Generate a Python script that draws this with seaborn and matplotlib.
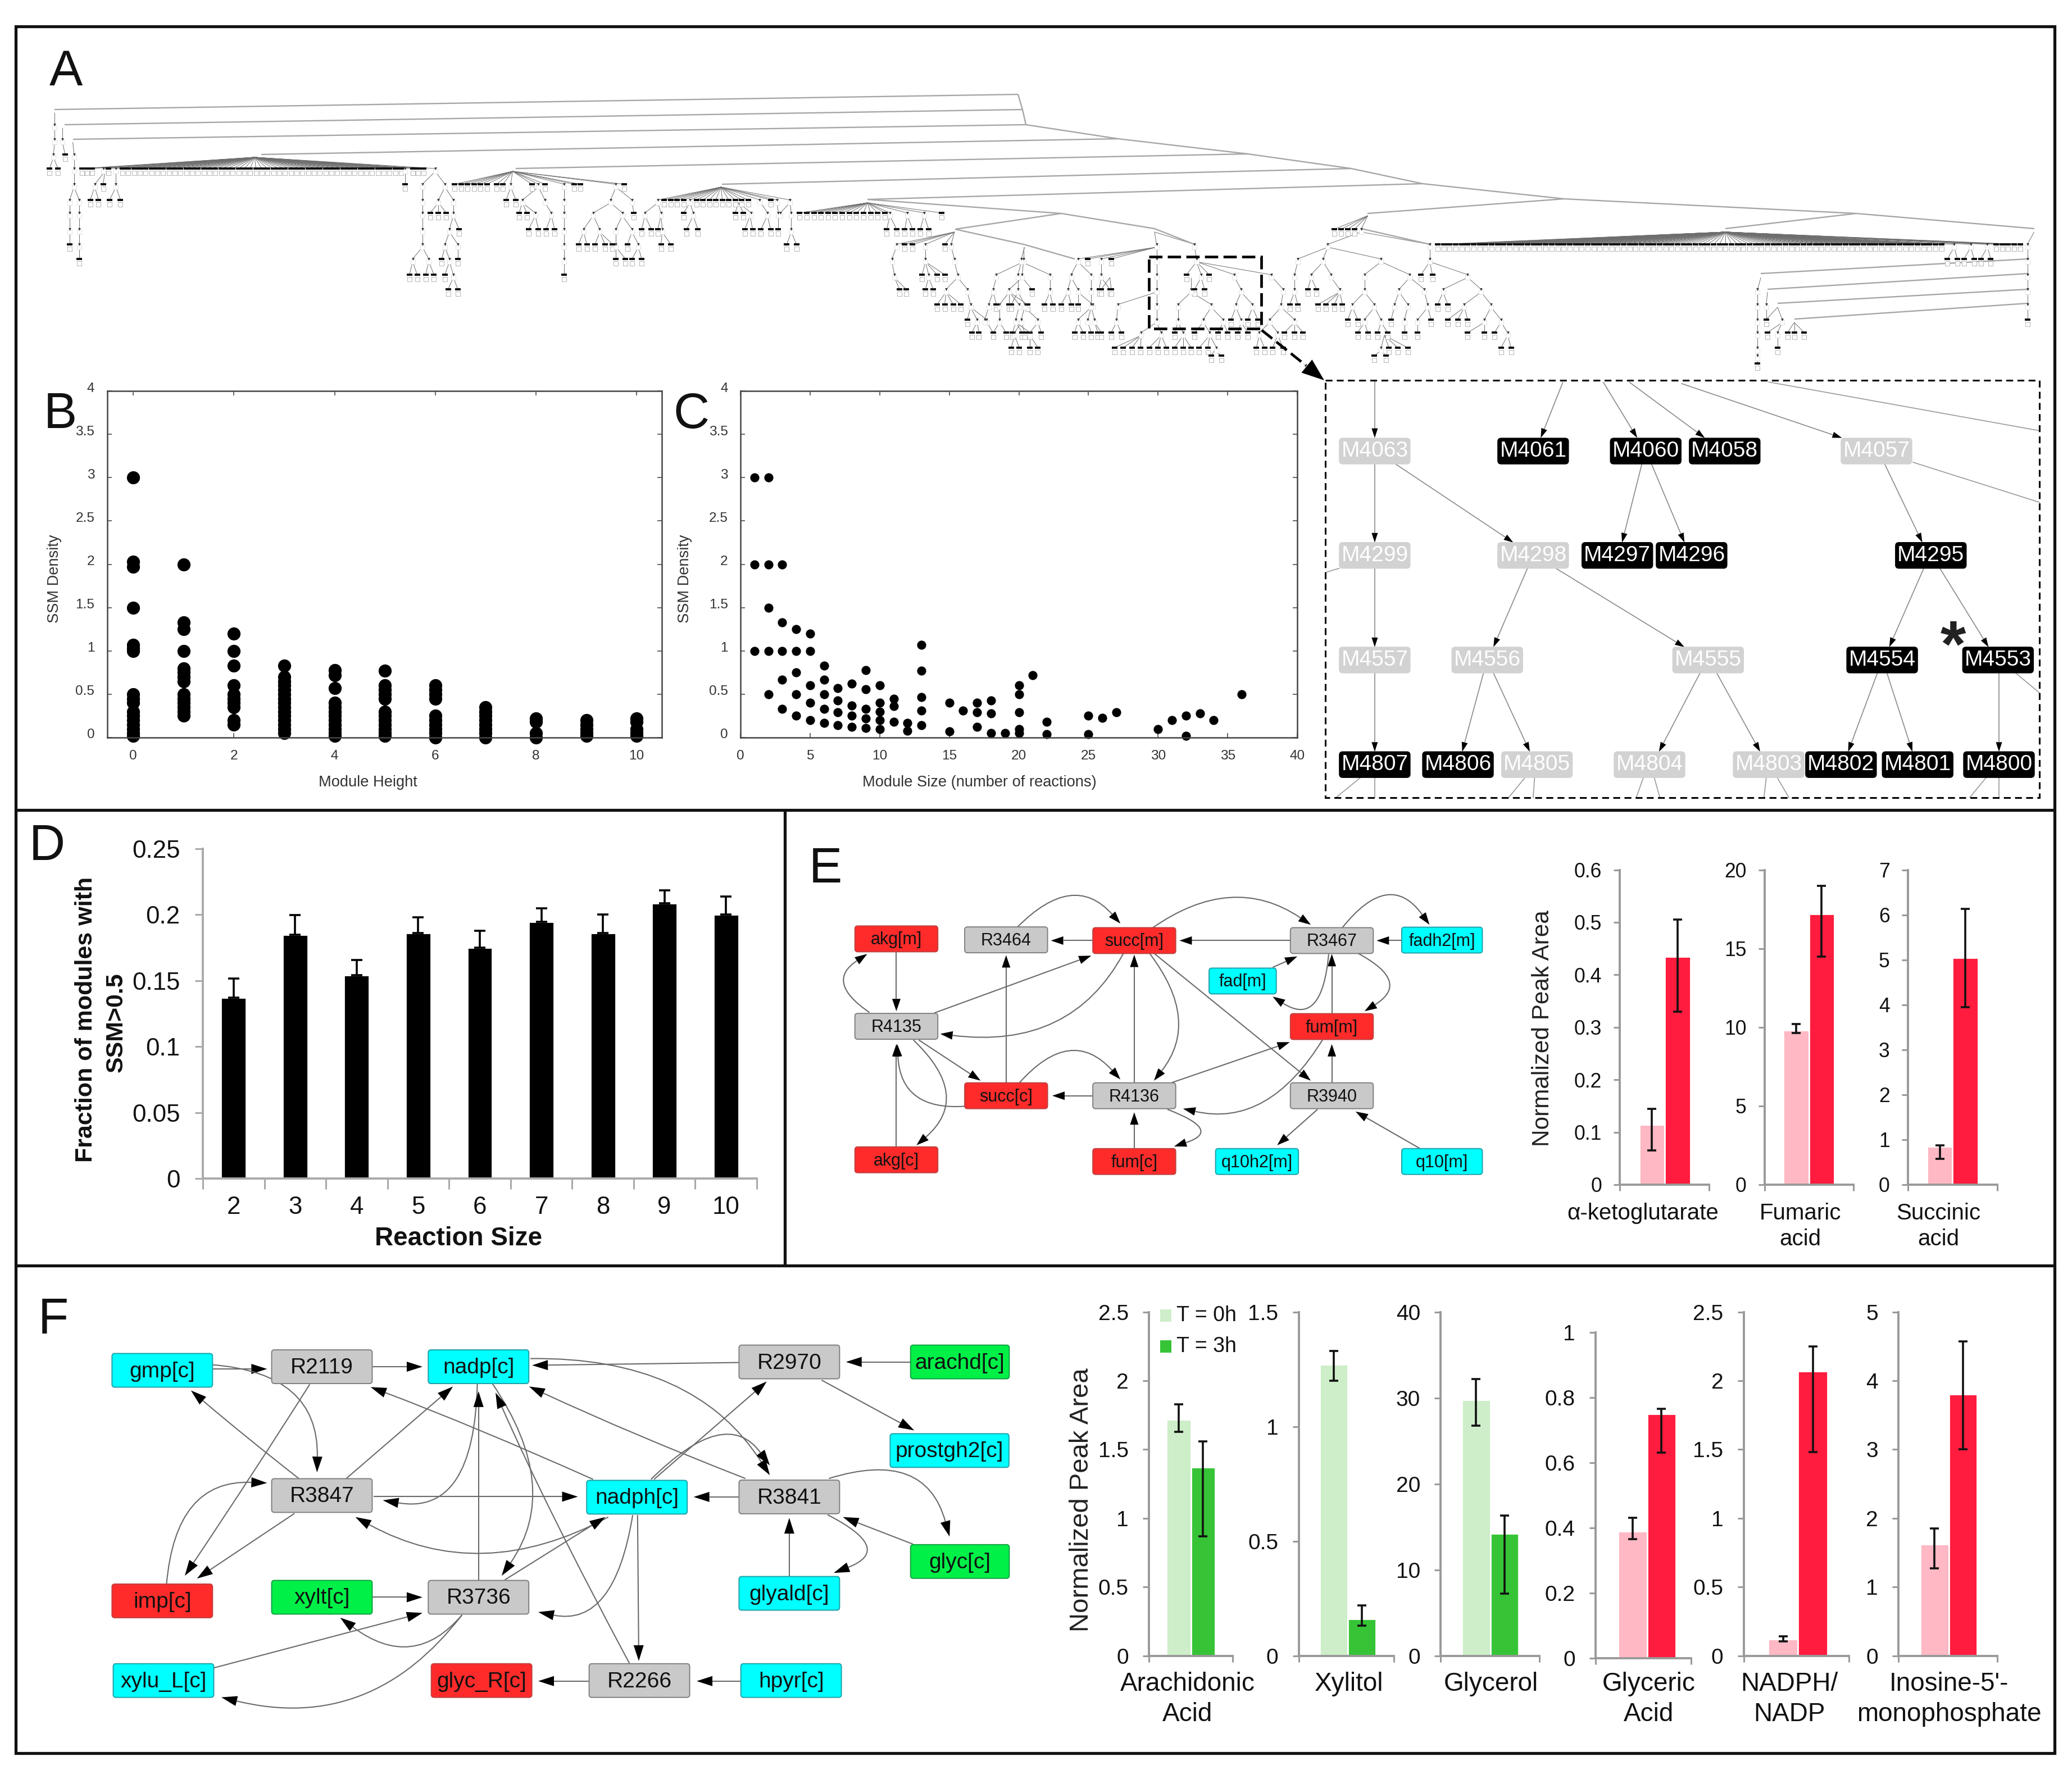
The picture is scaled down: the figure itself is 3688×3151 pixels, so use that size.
import numpy as np
import pandas as pd
import matplotlib
matplotlib.use("Agg")
import matplotlib.pyplot as plt
import seaborn as sns
from matplotlib.collections import LineCollection
from matplotlib.patches import FancyBboxPatch, PathPatch, Polygon, Rectangle
from matplotlib.path import Path
from matplotlib.transforms import ScaledTranslation

sns.set_style("white")
plt.rcParams["font.family"] = ["Liberation Sans", "DejaVu Sans"]

W, H = 3688, 3151
DPI = 200

# --------------------------------------------------
# Data - panels B, C, D
# --------------------------------------------------

density_h0 = [3, 2.03, 1.97, 1.5, 1.07, 1.03, 1.0, 0.5, 0.45, 0.4, 0.3, 0.25, 0.2, 0.15, 0.1, 0.05, 0.02]
density_h1 = [2, 1.33, 1.25, 1.0, 0.8, 0.75, 0.7, 0.65, 0.5, 0.45, 0.4, 0.35, 0.3, 0.25]
density_h2 = [1.2, 1.0, 0.83, 0.6, 0.5, 0.45, 0.4, 0.35, 0.2, 0.15]
density_h3 = [0.83, 0.7, 0.65, 0.6, 0.55, 0.5, 0.45, 0.4, 0.35, 0.3, 0.25, 0.2, 0.15, 0.1, 0.05]
density_h4 = [0.78, 0.72, 0.57, 0.4, 0.35, 0.3, 0.25, 0.2, 0.15, 0.1, 0.05, 0.02]
density_h5 = [0.77, 0.6, 0.55, 0.5, 0.45, 0.3, 0.25, 0.2, 0.15, 0.1, 0.05, 0.02]
density_h6 = [0.6, 0.55, 0.5, 0.45, 0.25, 0.2, 0.15, 0.1, 0.05, 0]
density_h7 = [0.35, 0.3, 0.25, 0.2, 0.15, 0.1, 0.05, 0]
density_h8 = [0.22, 0.18, 0.05, 0]
density_h9 = [0.2, 0.15, 0.1, 0.05, 0.02]
density_h10 = [0.22, 0.18, 0.1, 0.05, 0.02]
density_by_height = [density_h0, density_h1, density_h2, density_h3, density_h4, density_h5,
                     density_h6, density_h7, density_h8, density_h9, density_h10]

module_size = [1, 2, 1, 2, 3, 2, 3, 4, 5, 1, 2, 3, 4, 5, 13, 6, 9, 13, 4, 21, 3, 6, 8, 5, 10, 20, 7, 9, 2, 4, 6, 13,
               20, 36, 11, 7, 18, 5, 10, 15, 17, 8, 11, 3, 6, 9, 13, 16, 7, 10, 17, 18, 20, 27, 33, 4, 8, 25, 32, 26,
               9, 5, 10, 31, 34, 11, 22, 6, 12, 7, 13, 8, 9, 17, 10, 12, 20, 30, 15, 18, 19, 20, 22, 25, 32]
module_density = [3, 3, 2, 2, 2, 1.5, 1.33, 1.25, 1.2, 1, 1, 1, 1, 1, 1.07, .83, .78, .77, .75, .72, .67, .67, .62,
                  .6, .6, .6, .57, .56, .5, .5, .5, .47, .5, .5, .45, .43, .43, .4, .4, .4, .4, .37, .36, .33, .33,
                  .33, .31, .31, .29, .3, .29, .28, .29, .29, .28, .25, .25, .25, .25, .23, .22, .2, .2, .2, .2, .18,
                  .18, .17, .17, .14, .14, .12, .11, .12, .1, .08, .1, .1, .07, .05, .05, .05, .04, .04, .02]

reaction_size = ["2", "3", "4", "5", "6", "7", "8", "9", "10"]
fraction_ssm = [.137, .185, .154, .186, .175, .1945, .186, .2085, .2]
fraction_err = [.0145, .0146, .0117, .012, .013, .0105, .014, .01, .014]

# --------------------------------------------------
# Data - peak area bars
# --------------------------------------------------

akg_area, akg_low, akg_high = [.115, .435], [.065, .33], [.145, .505]
fum_area, fum_low, fum_high = [9.8, 17.2], [9.65, 14.5], [10.2, 19]
suc_area, suc_low, suc_high = [.85, 5.05], [.58, 3.95], [.88, 6.13]
ara_area, ara_low, ara_high = [1.72, 1.37], [1.63, .87], [1.83, 1.56]
xyl_area, xyl_low, xyl_high = [1.27, .16], [1.2, .13], [1.33, .22]
gol_area, gol_low, gol_high = [29.8, 14.2], [26.8, 7.2], [32.2, 16.3]
gla_area, gla_low, gla_high = [.39, .75], [.365, .63], [.43, .765]
nad_area, nad_low, nad_high = [.12, 2.07], [.105, 1.48], [.14, 2.25]
ino_area, ino_low, ino_high = [1.62, 3.8], [1.27, 3.0], [1.85, 4.57]

timepoints = ["T = 0h", "T = 3h"]
reds = ["#ffb8c4", "#ff1c3e"]
greens = ["#cdeec8", "#36c436"]

# --------------------------------------------------
# Data - panel A tree (x read off two crops, row = level)
# --------------------------------------------------

row_y = [168, 195, 222, 248, 275, 300, 328, 356, 379, 408, 435, 461, 489, 515, 542, 569, 592, 619, 633, 647]

top_children = [92, 100, 108, 125, 133, 145] + list(range(155, 590, 9)) + [593, 605, 613, 622, 640]
fan3_children = [985] + list(range(995, 1130, 10)) + [1143, 1160, 1170, 1190]
fan4_children = list(range(1205, 1340, 11)) + [1345, 1372, 1398, 1425]
big_children = list(range(640, 1405, 9)) + [1415, 1440, 1465] + list(range(1478, 1518, 9))

left_fans = [
    (50, 1, [50]), (50, 2, [50]), (62, 2, [62]), (50, 3, [48]), (62, 3, [66]), (48, 4, [42, 55]),
    (78, 3, [80]), (80, 4, [80]), (80, 5, [80]), (80, 6, [73, 88]), (73, 7, [73]), (88, 7, [88]),
    (73, 8, [73]), (88, 8, [88]), (73, 9, [73]), (88, 9, [88]), (88, 10, [88]),
    (360, 4, top_children), (128, 5, [112, 125]), (145, 5, [145]), (112, 6, [105, 118]), (145, 6, [135, 152]),
    (593, 5, [593]), (640, 5, [620, 655]), (620, 6, [620]), (620, 7, [620]), (620, 8, [620]), (620, 9, [620]),
    (620, 10, [605, 630]), (605, 11, [600, 612]), (630, 11, [625, 638]), (655, 6, [645, 668]),
    (645, 7, [632, 645, 657]), (668, 7, [668]), (668, 8, [662, 677]), (662, 9, [655, 675]), (655, 10, [650, 662]),
    (675, 10, [675]), (662, 11, [655, 668]), (668, 12, [660, 675]),
    (760, 5, [670, 680, 690, 700, 710, 720, 735, 745, 757, 790, 800, 810, 840, 855, 865, 920, 933]),
    (757, 6, [750, 765]), (800, 6, [775, 810]), (775, 7, [770, 782, 795]), (810, 7, [820]), (795, 8, [785, 800]),
    (820, 8, [812, 825]), (840, 6, [840]), (840, 7, [840]), (840, 8, [840]), (840, 9, [840]), (840, 10, [840]),
    (840, 11, [840]), (920, 6, [912, 945]), (912, 7, [885, 930]), (945, 7, [948]), (885, 8, [870, 895]),
    (930, 8, [920, 945]), (870, 9, [862, 875]), (895, 9, [888, 903, 915]), (920, 9, [920]), (945, 9, [938, 955]),
    (920, 10, [920, 935]), (955, 10, [945, 960]),
    (1083, 6, fan3_children), (985, 7, [965, 990]), (965, 8, [960, 975]), (990, 8, [985, 992]),
    (992, 9, [990, 1005]), (1035, 7, [1025, 1040]), (1040, 8, [1030, 1047]), (1110, 7, [1105, 1118, 1130]),
    (1145, 7, [1155]), (1128, 8, [1120, 1132]), (1155, 8, [1145, 1160]), (1170, 7, [1172]), (1172, 8, [1172]),
    (1190, 7, [1175, 1192]), (1192, 8, [1192]), (1192, 9, [1185, 1200]),
    (1310, 7, fan4_children), (1345, 8, [1340, 1355]), (1372, 8, [1368, 1380]), (1398, 8, [1392, 1405]),
    (1445, 9, [1355, 1368, 1380, 1400, 1430, 1440]), (1355, 10, [1348]), (1348, 11, [1352]),
    (1352, 12, [1360, 1370]), (1400, 10, [1400]), (1400, 11, [1395, 1405, 1418, 1430]), (1405, 12, [1400, 1412]),
    (1440, 10, [1445]), (1445, 11, [1450]), (1450, 12, [1432, 1465]), (1432, 13, [1418, 1430, 1443, 1455]),
    (1465, 13, [1470]), (1470, 14, [1465, 1480, 1495]), (1480, 15, [1472, 1483]), (1495, 15, [1505]),
    (1552, 10, [1552]), (1552, 11, [1510, 1550]), (1510, 12, [1505]), (1505, 13, [1498, 1510]),
    (1498, 14, [1492]), (1550, 12, [1530, 1565]), (1530, 13, [1515, 1530, 1545, 1558]),
    (1515, 14, [1515]), (1545, 14, [1540]), (1515, 15, [1505, 1525]), (1540, 15, [1535, 1550, 1562]),
]

right_fans = [
    (215, 9, [218, 275]), (218, 10, [100, 115, 135, 150, 218]), (20, 10, [15]), (15, 11, [10, 58]),
    (58, 12, [58]), (58, 13, [50, 62]), (10, 12, [10]), (10, 13, [0, 20]), (20, 14, [15, 40]),
    (40, 15, [28, 45]), (15, 15, [5, 20]), (5, 16, [0, 12]), (28, 16, [28, 40]),
    (100, 11, [90, 120]), (90, 12, [85, 100]), (120, 12, [120]), (85, 13, [75, 90]), (100, 13, [100, 122]),
    (120, 13, [120]), (120, 14, [100, 115, 125]), (100, 15, [95, 108]), (115, 15, [120]), (125, 15, [130, 135]),
    (135, 11, [135]), (135, 12, [132, 148]), (148, 12, [135, 150]),
    (218, 11, [218]), (218, 12, [218]), (218, 13, [160, 218]), (160, 14, [158]), (158, 15, [150, 165]),
    (218, 14, [218]), (218, 15, [195, 225]), (195, 16, [155, 168, 181, 194]), (225, 16, [207, 220, 233]),
    (275, 10, [278]), (278, 11, [263, 285, 297, 335, 390]), (285, 12, [275, 290]), (335, 12, [345]),
    (345, 13, [337, 362]), (337, 14, [330, 345]), (362, 14, [355, 370]), (270, 12, [270]), (270, 13, [250, 300]),
    (250, 14, [250]), (300, 14, [288, 318]), (250, 15, [245, 258]), (288, 15, [275, 298]), (318, 15, [310, 325]),
    (345, 15, [340, 355]), (258, 16, [245, 258, 270]), (298, 16, [282, 295, 308]), (305, 17, [300, 315]),
    (392, 12, [408]), (408, 13, [405]), (405, 14, [388, 425]), (388, 15, [372, 400]), (425, 15, [410, 425, 438]),
    (372, 16, [368, 380]), (400, 16, [392, 408]),
    (535, 8, [485, 495, 505, 515, 525]), (525, 9, [475, 628]), (475, 10, [430, 468, 555]), (430, 11, [425]),
    (425, 12, [425]), (425, 13, [418, 430]), (468, 11, [450, 480]), (450, 12, [445, 458]), (480, 12, [493]),
    (493, 13, [460, 472, 485, 497]), (555, 11, [530, 598]), (530, 12, [530]), (530, 13, [512, 545]),
    (512, 14, [505, 520]), (545, 14, [530, 555]), (598, 12, [582, 620]), (582, 13, [575, 595]), (620, 13, [625]),
    (575, 14, [570]), (595, 14, [590]), (625, 14, [610, 630]), (530, 15, [520, 535]), (555, 15, [550, 565]),
    (590, 15, [590]), (610, 15, [610]), (560, 16, [555, 567, 580, 595]), (555, 17, [545, 562]),
    (628, 10, [628]), (628, 11, [615, 632, 685]), (685, 12, [648, 705]), (648, 13, [640, 655]),
    (705, 13, [680, 720]), (680, 14, [655, 670, 685]), (720, 14, [710, 735]), (710, 15, [685, 710]),
    (735, 15, [725, 745]), (745, 16, [735, 750]),
    (1072, 9, big_children), (1415, 10, [1405, 1420]), (1440, 10, [1430, 1445]), (1465, 10, [1455, 1470]),
    (1535, 9, [1525]), (1525, 10, [1525]), (1525, 11, [1525]), (1525, 12, [1525]), (1525, 13, [1525]),
    (1525, 14, [1525]), (1125, 12, [1120]), (1120, 13, [1120]), (1120, 14, [1120]), (1120, 15, [1120]),
    (1120, 16, [1120]), (1120, 17, [1120]), (1120, 18, [1120]), (1135, 13, [1133]), (1133, 14, [1133]),
    (1150, 14, [1157, 1133]), (1157, 15, [1135, 1150]), (1150, 16, [1150]), (1175, 15, [1165, 1175, 1190]),
]

long_edges = [
    (1812, 168, 97, 195), (1812, 168, 1820, 195), (1820, 195, 115, 222), (1820, 195, 1826, 222),
    (1826, 222, 130, 248), (1826, 222, 1990, 247), (1990, 247, 465, 275), (1990, 247, 2221, 274),
    (2221, 274, 918, 300), (2221, 274, 2405, 300), (2405, 300, 1285, 328), (2405, 300, 2532, 327),
    (2532, 327, 1544, 355), (2532, 327, 2784, 354), (2784, 354, 2434, 380), (2784, 354, 3304, 380),
    (1544, 355, 1889, 380), (1889, 380, 1700, 408), (1889, 380, 2055, 407), (1700, 408, 1822, 435),
    (1822, 435, 1913, 461), (3304, 380, 3071, 407), (3304, 380, 3621, 407), (2423, 407, 2545, 435),
    (2055, 407, 2126, 435), (3609, 461, 3134, 487), (3609, 487, 3146, 515), (3609, 515, 3164, 540),
    (3609, 540, 3194, 568),
]

# --------------------------------------------------
# Data - inset module boxes
# --------------------------------------------------

module_names = ["M4063", "M4061", "M4060", "M4058", "M4057", "M4299", "M4298", "M4297", "M4296", "M4295",
                "M4557", "M4556", "M4555", "M4554", "M4553", "M4807", "M4806", "M4805", "M4804", "M4803",
                "M4802", "M4801", "M4800"]
module_x = [127, 462, 700, 867, 1188, 127, 462, 640, 797, 1303, 127, 365, 832, 1200, 1445, 127, 303, 470, 708, 960,
            1113, 1275, 1447]
module_y = [296, 296, 296, 296, 296, 660, 660, 660, 660, 660, 1025, 1025, 1025, 1025, 1025, 1390, 1390, 1390, 1390,
            1390, 1390, 1390, 1390]
module_dark = [0, 1, 1, 1, 0, 0, 0, 1, 1, 1, 0, 0, 0, 1, 1, 1, 1, 0, 0, 0, 1, 1, 1]

module_arrows = [
    (127, 52, 127, 250), (525, 55, 478, 250), (610, 55, 682, 250), (665, 55, 825, 250), (775, 60, 1115, 250),
    (127, 340, 127, 615), (170, 340, 420, 615), (692, 340, 650, 615), (712, 340, 782, 615), (1205, 340, 1285, 615),
    (127, 705, 127, 980), (450, 705, 378, 980), (510, 705, 782, 980), (1288, 705, 1215, 980), (1322, 705, 1425, 980),
    (127, 1070, 127, 1345), (357, 1070, 312, 1345), (378, 1070, 455, 1345), (815, 1070, 728, 1345),
    (850, 1070, 942, 1345), (1190, 1070, 1128, 1345), (1210, 1070, 1264, 1345), (1447, 1070, 1447, 1345),
]
module_stubs = [
    (960, 55, 1533, 225), (1265, 335, 1533, 475), (52, 705, 22, 720), (1482, 1070, 1533, 1140), (97, 1435, 45, 1510),
    (127, 1435, 127, 1510), (445, 1435, 410, 1510), (465, 1435, 462, 1510), (695, 1435, 680, 1510),
    (718, 1435, 730, 1510), (955, 1435, 950, 1510), (978, 1435, 1003, 1510), (1420, 1435, 1385, 1510),
    (1447, 1435, 1447, 1510),
]

# --------------------------------------------------
# Data - panel E network
# --------------------------------------------------

e_names = ["akg[m]", "R3464", "succ[m]", "R3467", "fadh2[m]", "fad[m]", "R4135", "fum[m]", "succ[c]", "R4136",
           "R3940", "akg[c]", "fum[c]", "q10h2[m]", "q10[m]"]
e_x = [220, 465, 751, 1192, 1438, 993, 220, 1192, 465, 751, 1192, 220, 751, 1025, 1438]
e_y = [303, 307, 310, 310, 308, 476, 662, 663, 947, 947, 947, 1210, 1217, 1217, 1217]
e_w = [185, 185, 185, 185, 180, 150, 185, 185, 185, 185, 185, 185, 185, 185, 180]
e_kind = ["r", "g", "r", "g", "c", "c", "g", "r", "r", "g", "g", "r", "r", "c", "c"]

e_edges = [
    (490, 255, 615, 23, 720, 240), (790, 260, 970, 28, 1145, 245), (1215, 258, 1320, 15, 1410, 245),
    (660, 310, 565, 310), (1100, 310, 852, 310), (1348, 310, 1292, 310), (220, 355, 220, 600),
    (160, 605, 60, 480, 155, 365), (305, 607, 655, 372), (727, 362, 610, 760, 318, 693), (465, 893, 465, 370),
    (751, 895, 751, 368), (785, 362, 900, 640, 795, 885), (795, 362, 1145, 885), (1250, 362, 1370, 480, 1265, 600),
    (1192, 610, 1192, 365), (1185, 365, 1170, 670, 1060, 540), (1060, 420, 1115, 375), (270, 718, 408, 885),
    (258, 718, 390, 950, 265, 1150), (375, 990, 230, 1010, 222, 735), (220, 1155, 220, 735),
    (495, 893, 610, 657, 720, 880), (660, 947, 568, 947), (835, 893, 1098, 727), (1172, 715, 1050, 1080, 860, 1000),
    (1192, 895, 1192, 735), (751, 1165, 751, 1015), (825, 1003, 950, 1090, 840, 1155), (1160, 1003, 1070, 1150),
    (1390, 1165, 1245, 1012),
]

# --------------------------------------------------
# Data - panel F network
# --------------------------------------------------

f_names = ["gmp[c]", "R2119", "nadp[c]", "R2970", "arachd[c]", "prostgh2[c]", "R3847", "nadph[c]", "R3841", "glyc[c]",
           "glyald[c]", "imp[c]", "xylt[c]", "R3736", "xylu_L[c]", "glyc_R[c]", "R2266", "hpyr[c]"]
f_x = [128, 390, 647, 1157, 1437, 1420, 390, 907, 1157, 1437, 1157, 128, 390, 647, 130, 652, 911, 1160]
f_y = [200, 187, 187, 170, 170, 487, 648, 654, 653, 884, 998, 1025, 1012, 1012, 1310, 1310, 1310, 1310]
f_w = [165, 165, 165, 165, 162, 195, 165, 165, 165, 162, 165, 165, 165, 165, 165, 165, 165, 165]
f_kind = ["c", "g", "c", "g", "n", "c", "g", "c", "g", "n", "c", "r", "n", "g", "c", "r", "g", "c"]

f_edges = [
    (210, 195, 300, 195), (210, 180, 385, 210, 382, 565), (472, 187, 555, 187), (370, 250, 280, 560, 165, 935),
    (352, 587, 260, 430, 175, 272), (430, 587, 605, 258), (645, 248, 640, 720, 490, 665), (475, 652, 810, 652),
    (345, 712, 185, 945), (135, 965, 150, 590, 300, 603), (835, 590, 640, 400, 470, 260),
    (860, 725, 650, 971, 445, 725), (690, 950, 855, 725), (935, 590, 1120, 240), (1075, 172, 735, 182),
    (1357, 170, 1250, 170), (1210, 235, 1362, 415), (732, 158, 1000, 150, 1125, 575), (930, 590, 1053, 325, 1125, 540),
    (1085, 587, 900, 430, 730, 258), (1075, 653, 1000, 653), (1222, 587, 1380, 480, 1420, 795), (1360, 822, 1245, 725),
    (1220, 717, 1330, 840, 1230, 925), (1157, 938, 1157, 728), (670, 248, 785, 620, 685, 935), (647, 955, 647, 275),
    (895, 1250, 760, 700, 675, 280), (908, 718, 910, 1240), (900, 718, 870, 1120, 745, 1065), (472, 1012, 555, 1012),
    (620, 1075, 540, 1280, 420, 1085), (212, 1265, 555, 1068), (620, 1075, 470, 1500, 225, 1370),
    (828, 1312, 745, 1312), (1078, 1312, 1005, 1312),
]

node_colors = {"r": "#ff2b2b", "g": "#c9c9c9", "c": "#00ffff", "n": "#00f048"}
node_edges = {"r": "#c04040", "g": "#808080", "c": "#20a0a8", "n": "#10a040"}

# --------------------------------------------------
# Helpers
# --------------------------------------------------

fig = plt.figure(figsize=(W / DPI, H / DPI), dpi=DPI, facecolor="white")

canvas = fig.add_axes([0, 0, 1, 1], zorder=0)
canvas.set_xlim(0, W)
canvas.set_ylim(H, 0)
canvas.axis("off")


def px_axes(left, top, right, bottom):
    ax = fig.add_axes([left / W, 1 - bottom / H, (right - left) / W, (bottom - top) / H], zorder=1)
    ax.patch.set_visible(False)
    return ax


def draw_edge(edge, ox, oy, sx, sy, head=(20, 14), lw=0.75, color="#6a6a6a"):
    pts = np.array(edge, dtype=float).reshape(-1, 2) * [sx, sy] + [ox, oy]
    tail = pts[-2]
    tip = pts[-1]
    unit = (tip - tail) / np.hypot(*(tip - tail))
    base = tip - unit * head[0]
    normal = np.array([-unit[1], unit[0]]) * head[1] / 2
    if len(pts) == 3:
        path = Path([pts[0], pts[1], base], [Path.MOVETO, Path.CURVE3, Path.CURVE3])
    else:
        path = Path([pts[0], base])
    canvas.add_patch(PathPatch(path, fill=False, lw=lw, edgecolor=color))
    canvas.add_patch(Polygon([tip, base + normal, base - normal], closed=True, fc="black", ec="none"))


def draw_network(names, xs, ys, widths, kinds, edges, ox, oy, sx, sy, height, fontsize, head):
    for edge in edges:
        draw_edge(edge, ox, oy, sx, sy, head=head)
    for name, x, y, w, kind in zip(names, xs, ys, widths, kinds):
        cx, cy = ox + x * sx, oy + y * sy
        bw = w * sx
        canvas.add_patch(FancyBboxPatch((cx - bw / 2, cy - height / 2), bw, height,
                                        boxstyle="round,pad=0,rounding_size=5",
                                        fc=node_colors[kind], ec=node_edges[kind], lw=0.7, zorder=3))
        canvas.text(cx, cy + 2, name, ha="center", va="center", fontsize=fontsize, color="#111111", zorder=4)


def peak_chart(box, bars, ticks, areas, lows, highs, colors, label, label_pos, fontsize=16.5, tick_size=14, pad=9,
               spacing=1.28):
    left, top, right, bottom = box
    ax = px_axes(left, top, right, bottom)
    unit = (bars[1] - bars[0]) / 2
    table = pd.DataFrame({"time": timepoints, "area": areas})
    sns.barplot(data=table, x="time", y="area", hue="time", palette=colors, width=1, saturation=1,
                legend=False, ax=ax)
    ax.errorbar([0, 1], areas, yerr=[np.array(areas) - lows, np.array(highs) - areas], fmt="none",
                ecolor="#111111", elinewidth=1.3, capsize=3, capthick=1.3)
    x0 = -0.5 - (bars[0] - left) / unit
    x1 = -0.5 + (right - bars[0]) / unit
    ax.set_xlim(x0, x1)
    ax.set_xticks([x0, x1])
    ax.set_xticklabels(["", ""])
    ax.set_yticks([float(t) for t in ticks])
    ax.set_yticklabels(ticks)
    ax.set_ylim(float(ticks[0]), float(ticks[-1]))
    ax.tick_params(axis="y", labelsize=tick_size, length=4, width=1.1, color="#999999", pad=pad, left=True, labelcolor="#111111")
    ax.tick_params(axis="x", length=4, width=1.1, color="#999999", bottom=True)
    for side in ["top", "right"]:
        ax.spines[side].set_visible(False)
    for side in ["left", "bottom"]:
        ax.spines[side].set_color("#999999")
        ax.spines[side].set_linewidth(1.4)
    ax.set_xlabel(label, fontsize=fontsize, va="top", ha="center", linespacing=spacing, color="#111111")
    ax.xaxis.set_label_coords(label_pos[0], label_pos[1], transform=canvas.transData)
    ax.set_ylabel("")
    return ax


# --------------------------------------------------
# Panel frames and letters
# --------------------------------------------------

canvas.add_patch(Rectangle((28, 47), 3629, 3074, fill=False, ec="#111111", lw=1.9))
canvas.plot([28, 3657], [1442, 1442], color="#111111", lw=1.9)
canvas.plot([1397, 1397], [1442, 2253], color="#111111", lw=1.9)
canvas.plot([28, 3657], [2253, 2253], color="#111111", lw=1.9)

panel_letters = [("A", 88, 152), ("B", 78, 762), ("C", 1198, 762), ("D", 52, 1531), ("E", 1440, 1571), ("F", 68, 2374)]
for letter, lx, ly in panel_letters:
    canvas.text(lx, ly, letter, fontsize=32, ha="left", va="baseline", color="#111111")

# --------------------------------------------------
# Panel A - tree
# --------------------------------------------------

segments = []
leaf_tips = []
inner_tips = []
for fans, ox, sx in [(left_fans, 40, 1.148), (right_fans, 1800, 1.186)]:
    parents = [(ox + px * sx, row) for px, row, _ in fans]
    for px, row, children in fans:
        for cx in children:
            x0, x1 = ox + px * sx, ox + cx * sx
            segments.append([(x0, row_y[row] + 5), (x1, row_y[row + 1])])
            is_inner = any(r == row + 1 and abs(p - x1) < 4 for p, r in parents)
            (inner_tips if is_inner else leaf_tips).append((x1, row_y[row + 1]))
leaf_tips = np.array(leaf_tips)
inner_tips = np.array(inner_tips)

dash_marker = Path([(-1, -0.42), (1, -0.42), (1, 0.42), (-1, 0.42), (-1, -0.42)])

canvas.add_collection(LineCollection(segments, colors="#6e6e6e", linewidths=0.35, zorder=1))
long_segments = [[(a, b), (c, d)] for a, b, c, d in long_edges]
canvas.add_collection(LineCollection(long_segments, colors="#a6a6a6", linewidths=0.85, zorder=1))
canvas.scatter(leaf_tips[:, 0], leaf_tips[:, 1] + 8, marker="s", s=10, facecolor="white", edgecolor="#b4b4b4",
               linewidths=0.35, zorder=2)
canvas.scatter(leaf_tips[:, 0], leaf_tips[:, 1], marker=dash_marker, s=14, color="#111111", linewidths=0, zorder=3)
canvas.scatter(inner_tips[:, 0], inner_tips[:, 1] + 5, marker="s", s=7, facecolor="white", edgecolor="#dddddd",
               linewidths=0.3, zorder=2)
canvas.scatter(inner_tips[:, 0], inner_tips[:, 1], marker="v", s=3, color="#333333", linewidths=0, zorder=3)

canvas.add_patch(Rectangle((2045, 457), 200, 128, fill=False, ec="black", lw=1.7, ls=(0, (5, 2)), zorder=4))
canvas.plot([2246, 2325], [588, 651], color="black", lw=1.7, ls=(0, (5, 2)), zorder=4)
draw_edge((2320, 647, 2357, 677), 0, 0, 1, 1, head=(40, 30), lw=0.1, color="black")

# --------------------------------------------------
# Panel A - inset
# --------------------------------------------------

canvas.add_patch(Rectangle((2358.5, 676.5), 1271.5, 743.5, fill=False, ec="black", lw=1.1, ls=(0, (4, 2.5)), zorder=4))

IN_X0, IN_Y0, IN_SX, IN_SY = 2340, 652, 1 / 1.188, 1 / 1.96

for edge in module_arrows:
    draw_edge(edge, IN_X0, IN_Y0, IN_SX, IN_SY, head=(17, 11), lw=0.6, color="#8a8a8a")
for x0, y0, x1, y1 in module_stubs:
    canvas.plot([IN_X0 + x0 * IN_SX, IN_X0 + x1 * IN_SX], [IN_Y0 + y0 * IN_SY, min(IN_Y0 + y1 * IN_SY, 1420)],
                color="#9a9a9a", lw=0.6)

for name, mx, my, dark in zip(module_names, module_x, module_y, module_dark):
    cx, cy = IN_X0 + mx * IN_SX, IN_Y0 + my * IN_SY
    face = "black" if dark else "#d2d2d2"
    canvas.add_patch(FancyBboxPatch((cx - 63, cy - 23), 126, 46, boxstyle="round,pad=0,rounding_size=6",
                                    fc=face, ec=face, lw=0.5, zorder=3))
    canvas.text(cx, cy, name, ha="center", va="center", fontsize=14, color="white", zorder=4)

canvas.text(3476, 1156, "*", fontsize=42, fontweight="bold", ha="center", va="center", color="#222222", zorder=5)

# --------------------------------------------------
# Panels B and C - scatter
# --------------------------------------------------

height_table = pd.DataFrame({
    "height": [h for h, vals in enumerate(density_by_height) for _ in vals],
    "density": [v for vals in density_by_height for v in vals],
})
size_table = pd.DataFrame({"size": module_size, "density": module_density})

ax_b = px_axes(190.5, 696, 1178, 1313)
sns.scatterplot(data=height_table, x="height", y="density", color="black", s=70, linewidth=0, clip_on=False, ax=ax_b)
ax_b.set_xlim(-0.52, 10.5)
ax_b.set_xticks([0, 2, 4, 6, 8, 10])

ax_c = px_axes(1318, 696, 2309, 1313)
sns.scatterplot(data=size_table, x="size", y="density", color="black", s=34, linewidth=0, clip_on=False, ax=ax_c)
ax_c.set_xlim(0, 40)
ax_c.set_xticks(range(0, 41, 5))

for ax, xlabel, xpos, ypos in [(ax_b, "Module Height", 655, 97), (ax_c, "Module Size (number of reactions)", 1743, 1219)]:
    ax.set_ylim(0, 4)
    ax.set_yticks([0, 0.5, 1, 1.5, 2, 2.5, 3, 3.5, 4])
    ax.set_yticklabels(["0", "0.5", "1", "1.5", "2", "2.5", "3", "3.5", "4"])
    ax.tick_params(axis="both", direction="in", length=3, width=0.7, color="#666666", labelsize=8.8,
                   top=True, right=True, left=True, bottom=True, labelcolor="#333333")
    ax.tick_params(axis="x", pad=8)
    ax.tick_params(axis="y", pad=8)
    for spine in ax.spines.values():
        spine.set_color("#444444")
        spine.set_linewidth(0.9)
        spine.set_visible(True)
    ax.set_xlabel(xlabel, fontsize=9.8, va="center", ha="center", color="#333333")
    ax.xaxis.set_label_coords(xpos, 1393, transform=canvas.transData)
    ax.set_ylabel("SSM Density", fontsize=9.8, va="center", ha="center", color="#333333")
    ax.yaxis.set_label_coords(ypos, 1030, transform=canvas.transData)
    # the y numbers sit a little above their ticks in the original
    for lab in ax.get_yticklabels():
        lab.set_transform(lab.get_transform() + ScaledTranslation(0, 7 / DPI, fig.dpi_scale_trans))

# --------------------------------------------------
# Panel D - bars
# --------------------------------------------------

ax_d = px_axes(361, 1511, 1347, 2098)
table_d = pd.DataFrame({"size": reaction_size, "fraction": fraction_ssm})
sns.barplot(data=table_d, x="size", y="fraction", color="black", saturation=1, width=0.41, ax=ax_d)
ax_d.errorbar(range(len(reaction_size)), fraction_ssm, yerr=[np.zeros(len(fraction_err)), fraction_err], fmt="none",
              ecolor="black", elinewidth=1.3, capsize=3.5, capthick=1.3)
ax_d.set_xlim(-0.5, 8.5)
ax_d.set_ylim(0, 0.25)
ax_d.set_yticks([0, 0.05, 0.1, 0.15, 0.2, 0.25])
ax_d.set_yticklabels(["0", "0.05", "0.1", "0.15", "0.2", "0.25"])
ax_d.set_xticks(np.arange(-0.5, 9, 1))
ax_d.set_xticklabels([])
ax_d.set_xticks(range(9), labels=reaction_size, minor=True)
ax_d.tick_params(axis="y", labelsize=15.8, length=5, width=1.1, color="#aaaaaa", pad=9.5, left=True, labelcolor="#111111")
ax_d.tick_params(axis="x", which="major", length=7, width=1.1, color="#aaaaaa", bottom=True)
ax_d.tick_params(axis="x", which="minor", length=0, labelsize=15.8, pad=11, labelcolor="#111111")
for side in ["top", "right"]:
    ax_d.spines[side].set_visible(False)
for side in ["left", "bottom"]:
    ax_d.spines[side].set_color("#aaaaaa")
    ax_d.spines[side].set_linewidth(1.4)
ax_d.set_xlabel("Reaction Size", fontsize=16.5, fontweight="bold", va="center", ha="center", color="#111111")
ax_d.xaxis.set_label_coords(816, 2205, transform=canvas.transData)
ax_d.set_ylabel("")
canvas.text(153, 1815, "Fraction of modules with", rotation=90, fontsize=15.5, fontweight="bold",
            ha="center", va="center", color="#111111")
canvas.text(207, 1820, "SSM>0.5", rotation=90, fontsize=15.5, fontweight="bold", ha="center", va="center", color="#111111")

# --------------------------------------------------
# Panel E - network and bars
# --------------------------------------------------

draw_network(e_names, e_x, e_y, e_w, e_kind, e_edges, 1420, 1540, 1 / 1.254, 1 / 2.306, 46, 11, (22, 15))

e_top, e_bottom = 1548.5, 2109
e_style = {"fontsize": 14.5, "tick_size": 12.8, "pad": 7.5}
chart_akg = peak_chart((2883, e_top, 3042, e_bottom), (2917.5, 3009), ["0", "0.1", "0.2", "0.3", "0.4", "0.5", "0.6"],
                       akg_area, akg_low, akg_high, reds, "α-ketoglutarate", (2924, 2141), **e_style)
chart_fum = peak_chart((3140.6, e_top, 3299, e_bottom), (3174, 3265), ["0", "5", "10", "15", "20"],
                       fum_area, fum_low, fum_high, reds, "Fumaric\nacid", (3204, 2141), **e_style)
chart_suc = peak_chart((3395.6, e_top, 3555, e_bottom), (3430, 3520.6), ["0", "1", "2", "3", "4", "5", "6", "7"],
                       suc_area, suc_low, suc_high, reds, "Succinic\nacid", (3450, 2141), **e_style)
chart_akg.set_ylabel("Normalized Peak Area", fontsize=15.2, va="center", ha="center", color="#222222")
chart_akg.yaxis.set_label_coords(2745.6, 1831, transform=canvas.transData)

# --------------------------------------------------
# Panel F - network and bars
# --------------------------------------------------

draw_network(f_names, f_x, f_y, f_w, f_kind, f_edges, 150, 2340, 1 / 0.922, 1 / 2.01, 60, 14, (28, 18))

f_top, f_bottom = 2335.6, 2947.5
chart_ara = peak_chart((2045, f_top, 2194, f_bottom), (2076, 2163), ["0", "0.5", "1", "1.5", "2", "2.5"],
                       ara_area, ara_low, ara_high, greens, "Arachidonic\nAcid", (2114, 2976))
chart_xyl = peak_chart((2311.5, f_top, 2481, f_bottom), (2349, 2449), ["0", "0.5", "1", "1.5"],
                       xyl_area, xyl_low, xyl_high, greens, "Xylitol", (2401, 2976))
chart_gol = peak_chart((2564, f_top, 2740, f_bottom), (2602, 2703), ["0", "10", "20", "30", "40"],
                       gol_area, gol_low, gol_high, greens, "Glycerol", (2653.6, 2976))
chart_gla = peak_chart((2840, 2371.6, 3009.5, 2952), (2880, 2983), ["0", "0.2", "0.4", "0.6", "0.8", "1"],
                       gla_area, gla_low, gla_high, reds, "Glyceric\nAcid", (2935, 2976))
chart_nad = peak_chart((3103.6, f_top, 3290.7, f_bottom), (3147, 3253), ["0", "0.5", "1", "1.5", "2", "2.5"],
                       nad_area, nad_low, nad_high, reds, "NADPH/\nNADP", (3185, 2976))
chart_ino = peak_chart((3379, f_top, 3555, f_bottom), (3418, 3519), ["0", "1", "2", "3", "4", "5"],
                       ino_area, ino_low, ino_high, reds, "Inosine-5'-\nmonophosphate", (3469, 2976))
chart_ara.set_ylabel("Normalized Peak Area", fontsize=17, va="center", ha="center", color="#222222")
chart_ara.yaxis.set_label_coords(1925, 2670, transform=canvas.transData)

for label, color, ly in zip(timepoints, greens, [2342, 2397]):
    canvas.add_patch(Rectangle((2065, ly - 11), 20, 22, fc=color, ec="none"))
    canvas.text(2094, ly, label, fontsize=13.5, ha="left", va="center", color="#111111")

fig.savefig("out.png", dpi=DPI)
plt.close(fig)
print("Saved out.png")
